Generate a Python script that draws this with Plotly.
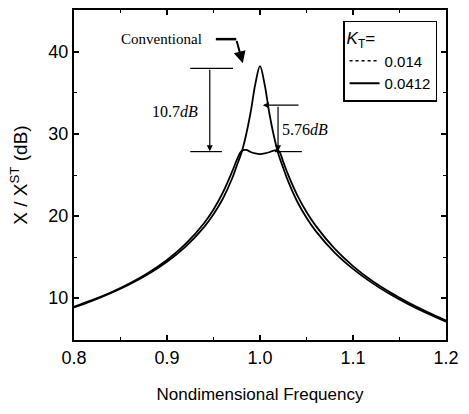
import plotly.graph_objects as go

# Nondimensional frequency
freq = [0.80, 0.82, 0.84, 0.86, 0.88, 0.90, 0.92, 0.94, 0.95, 0.96, 0.97, 0.975,
        0.98, 0.985, 0.99, 0.995, 1.00, 1.005, 1.01, 1.015, 1.02, 1.025, 1.03,
        1.04, 1.05, 1.06, 1.08, 1.10, 1.12, 1.14, 1.16, 1.18, 1.20]

# Conventional (sharp peak) response, dB
conventional = [8.87, 9.69, 10.62, 11.69, 12.93, 14.42, 16.27, 18.68, 20.22, 22.11, 24.57, 26.13,
                27.67, 29.87, 32.68, 36.10, 38.27, 36.03, 32.55, 29.72, 27.48, 25.85, 24.31,
                21.77, 19.79, 18.16, 15.58, 13.56, 11.89, 10.47, 9.23, 8.13, 7.13]

# Flat-top response, dB
flat_top = [8.95, 9.78, 10.72, 11.82, 13.10, 14.65, 16.60, 19.15, 20.80, 22.85, 25.40, 26.80,
            27.90, 28.05, 27.80, 27.62, 27.55, 27.62, 27.78, 27.98, 27.95, 26.60, 25.10,
            22.55, 20.50, 18.80, 16.05, 13.90, 12.15, 10.70, 9.42, 8.30, 7.28]

legend_names = ["0.014", "0.0412"]
legend_dash = ["dot", "solid"]

x_ticks = [0.8, 0.9, 1.0, 1.1, 1.2]
y_ticks = [10, 20, 30, 40]

fig = go.Figure()
fig.add_trace(go.Scatter(x=freq, y=conventional, mode="lines",
                         line=dict(color="black", width=1.8, shape="spline"), showlegend=False))
fig.add_trace(go.Scatter(x=freq, y=flat_top, mode="lines",
                         line=dict(color="black", width=1.8, shape="spline"), showlegend=False))
for name, dash in zip(legend_names, legend_dash):
    fig.add_trace(go.Scatter(x=[None], y=[None], mode="lines", name=name,
                             line=dict(color="black", width=1.5 if dash == "dot" else 2, dash=dash)))

serif = "Liberation Serif, Times New Roman, serif"
sans = "Liberation Sans, Arial, sans-serif"

# "Conventional" label and bent arrow
fig.add_annotation(x=0.9395, y=41.6, text="Conventional", showarrow=False,
                   xanchor="right", yanchor="middle", font=dict(family=serif, size=15, color="black"))
fig.add_shape(type="line", x0=0.9525, y0=41.55, x1=0.9745, y1=41.55, line=dict(color="black", width=2.5))
fig.add_annotation(x=0.9815, y=38.6, ax=0.9745, ay=41.5, axref="x", ayref="y", xref="x", yref="y",
                   text="", showarrow=True, arrowhead=2, arrowsize=1.2, arrowwidth=2, arrowcolor="black")

# 10.7 dB marker
fig.add_shape(type="line", x0=0.925, y0=38.0, x1=0.971, y1=38.0, line=dict(color="black", width=1.2))
fig.add_shape(type="line", x0=0.925, y0=27.85, x1=0.959, y1=27.85, line=dict(color="black", width=1.2))
fig.add_annotation(x=0.946, y=27.9, ax=0.946, ay=38.0, axref="x", ayref="y",
                   text="", showarrow=True, arrowhead=2, arrowsize=1, arrowwidth=1.2, arrowcolor="black")
fig.add_annotation(x=0.9355, y=32.7, text="10.7<i>dB</i>", showarrow=False, xanchor="right",
                   font=dict(family=serif, size=16, color="black"))

# 5.76 dB marker
fig.add_annotation(x=1.003, y=33.5, ax=1.043, ay=33.5, axref="x", ayref="y",
                   text="", showarrow=True, arrowhead=2, arrowsize=1, arrowwidth=1.2, arrowcolor="black")
fig.add_shape(type="line", x0=1.016, y0=27.85, x1=1.045, y1=27.85, line=dict(color="black", width=1.2))
fig.add_annotation(x=1.0194, y=27.9, ax=1.0194, ay=33.5, axref="x", ayref="y",
                   text="", showarrow=True, arrowhead=2, arrowsize=1, arrowwidth=1.2, arrowcolor="black")
fig.add_annotation(x=1.022, y=30.6, text="5.76<i>dB</i>", showarrow=False, xanchor="left",
                   font=dict(family=serif, size=16, color="black"))

axis_common = dict(showgrid=False, zeroline=False, showline=True, linecolor="black", linewidth=2,
                   mirror="allticks", ticks="inside", ticklen=5, tickwidth=1.5, tickcolor="black",
                   tickfont=dict(family=sans, size=18, color="black"))

fig.update_xaxes(range=[0.8, 1.2], tickvals=x_ticks, ticktext=[f"{v:.1f}" for v in x_ticks],
                 minor=dict(ticks="inside", ticklen=3, tickwidth=1.2, tickcolor="black", dtick=0.05,
                            tick0=0.8),
                 title=dict(text="Nondimensional Frequency", font=dict(family=sans, size=17, color="black"),
                            standoff=22),
                 **axis_common)
fig.update_yaxes(range=[4.9, 45.1], tickvals=y_ticks,
                 minor=dict(ticks="inside", ticklen=3, tickwidth=1.2, tickcolor="black", dtick=5, tick0=0),
                 title=dict(text="X / X<sup>ST</sup> (dB)", font=dict(family=sans, size=19, color="black"),
                            standoff=16),
                 **axis_common)

fig.update_layout(
    width=469, height=414,
    margin=dict(l=74, r=23, t=8, b=74),
    paper_bgcolor="white", plot_bgcolor="white",
    legend=dict(x=0.976, y=0.967, xanchor="right", yanchor="top",
                bordercolor="black", borderwidth=1.5, bgcolor="white",
                font=dict(family=sans, size=15, color="black"),
                title=dict(text="<i>K</i><sub>T</sub>=", side="top",
                           font=dict(family=sans, size=17, color="black")),
                itemwidth=30, tracegroupgap=0),
)

fig.write_html("out.html")
